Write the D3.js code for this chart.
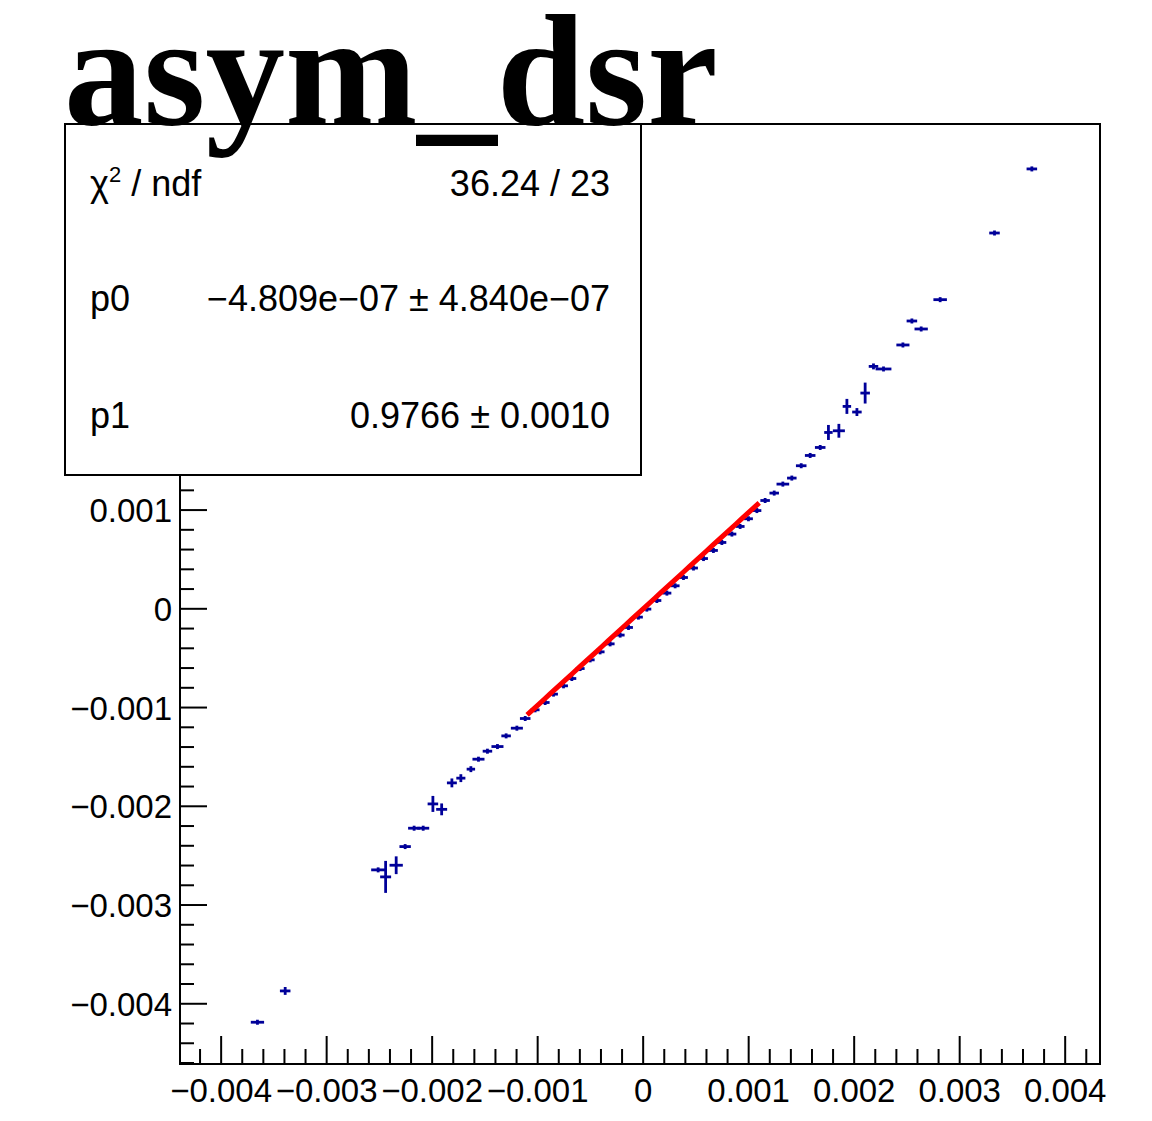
<!DOCTYPE html>
<html><head><meta charset="utf-8">
<script src="https://cdn.jsdelivr.net/npm/d3@7"></script>
<style>body{margin:0;background:#fff}svg{display:block}</style>
</head><body>
<script>
const chartTitle = "asym_dsr";
const xVals = [-0.003656,-0.003393,-0.002512,-0.002441,-0.002341,-0.002256,-0.002171,-0.002085,-0.001993,-0.001910,
 -0.001813,-0.001728,-0.001633,-0.001561,-0.001476,-0.001381,-0.001299,-0.001197,-0.001118,-0.001024,
 -0.000929,-0.000850,-0.000755,-0.000676,-0.000597,-0.000502,-0.000408,-0.000313,-0.000218,-0.000139,
 -0.000045,0.000035,0.000130,0.000225,0.000303,0.000382,0.000477,0.000572,0.000666,0.000746,
 0.000841,0.000919,0.000998,0.001078,0.001156,0.001242,0.001324,0.001409,0.001498,0.001583,
 0.001678,0.001756,0.001855,0.001931,0.002026,0.002104,0.002183,0.002278,0.002462,0.002547,
 0.002635,0.002815,0.003330,0.003684];
const yVals = [-0.004187,-0.003870,-0.002644,-0.002715,-0.002597,-0.002408,-0.002222,-0.002222,-0.001976,-0.002031,
 -0.001763,-0.001715,-0.001624,-0.001523,-0.001442,-0.001395,-0.001287,-0.001209,-0.001111,-0.001023,
 -0.000949,-0.000864,-0.000780,-0.000706,-0.000605,-0.000517,-0.000436,-0.000355,-0.000266,-0.000189,
 -0.000084,-0.000003,0.000084,0.000159,0.000233,0.000317,0.000413,0.000509,0.000591,0.000672,
 0.000757,0.000834,0.000912,0.000995,0.001097,0.001172,0.001263,0.001324,0.001449,0.001553,
 0.001634,0.001786,0.001803,0.002050,0.001993,0.002185,0.002455,0.002429,0.002672,0.002915,
 0.002834,0.003131,0.003806,0.004455];
const xErrs = [0.000063,0.000050,0.000066,0.000052,0.000063,0.000054,0.000057,0.000057,0.000050,0.000052,
 0.000047,0.000043,0.000040,0.000057,0.000045,0.000057,0.000045,0.000057,0.000050,0.000042,
 0.000042,0.000042,0.000042,0.000042,0.000042,0.000042,0.000042,0.000042,0.000042,0.000042,
 0.000042,0.000042,0.000042,0.000042,0.000042,0.000042,0.000042,0.000042,0.000042,0.000042,
 0.000042,0.000042,0.000042,0.000042,0.000045,0.000045,0.000060,0.000045,0.000050,0.000050,
 0.000050,0.000040,0.000057,0.000040,0.000045,0.000045,0.000045,0.000075,0.000062,0.000050,
 0.000063,0.000064,0.000050,0.000050];
const yErrs = [0.000010,0.000040,0.000020,0.000162,0.000090,0.000015,0.000015,0.000015,0.000081,0.000060,
 0.000045,0.000040,0.000030,0.000020,0.000020,0.000020,0.000015,0.000015,0.000015,0.000012,
 0.000012,0.000012,0.000012,0.000012,0.000012,0.000012,0.000012,0.000012,0.000012,0.000012,
 0.000012,0.000012,0.000012,0.000012,0.000012,0.000012,0.000012,0.000012,0.000012,0.000012,
 0.000012,0.000012,0.000012,0.000012,0.000015,0.000015,0.000015,0.000015,0.000020,0.000020,
 0.000020,0.000076,0.000070,0.000076,0.000040,0.000106,0.000030,0.000015,0.000015,0.000015,
 0.000015,0.000015,0.000015,0.000015];
const xTicks = [-0.004,-0.003,-0.002,-0.001,0,0.001,0.002,0.003,0.004];
const xTickLabels = ["\u22120.004","\u22120.003","\u22120.002","\u22120.001","0","0.001","0.002","0.003","0.004"];
const yTicks = [-0.004,-0.003,-0.002,-0.001,0,0.001,0.002,0.003,0.004];
const yTickLabels = ["\u22120.004","\u22120.003","\u22120.002","\u22120.001","0","0.001","0.002","0.003","0.004"];
const fitP0 = -4.809e-07, fitP1 = 0.9766;
const fitRange = [-0.0011, 0.0011];
const statLabels = ["\u03c7", "p0", "p1"];
const statValues = ["36.24 / 23", "\u22124.809e\u221207 \u00b1 4.840e\u221207", "0.9766 \u00b1 0.0010"];

const W = 1152, H = 1121;
const L = 180, R = 1100, T = 124, B = 1064;
const boxX = 65, boxY = 124, boxW = 576, boxH = 351;
const svg = d3.select("body").append("svg").attr("width", W).attr("height", H);
const x = d3.scaleLinear().domain([-0.00439, 0.00433]).range([L, R]);
const y = d3.scaleLinear().domain([-0.00461, 0.00491]).range([B, T]);
const font = "'Liberation Sans', Arial, sans-serif";
const isMajor = (d, arr) => arr.some(t => Math.abs(t - d) < 1e-9);

// x axis ticks (major + minor), pointing up into the frame
const gx = svg.append("g");
const xMinorVals = d3.range(-22, 23).map(i => +(i * 0.0002).toFixed(5)).filter(v => v >= x.domain()[0] && v <= x.domain()[1]);
gx.selectAll("line").data(xMinorVals).join("line")
  .attr("x1", d => x(d)).attr("x2", d => x(d)).attr("y1", B).attr("y2", d => isMajor(d, xTicks) ? B - 28 : B - 15)
  .attr("stroke", "#000").attr("stroke-width", 2);
gx.selectAll("text").data(xTicks).join("text")
  .attr("x", d => x(d)).attr("y", 1102).attr("text-anchor", "middle")
  .attr("font-family", font).attr("font-size", 33).text((d, i) => xTickLabels[i]);

// y axis ticks
const gy = svg.append("g");
const yMinorVals = d3.range(-24, 25).map(i => +(i * 0.0002).toFixed(5)).filter(v => v >= y.domain()[0] && v <= y.domain()[1]);
gy.selectAll("line").data(yMinorVals).join("line")
  .attr("y1", d => y(d)).attr("y2", d => y(d)).attr("x1", L).attr("x2", d => isMajor(d, yTicks) ? L + 27 : L + 14)
  .attr("stroke", "#000").attr("stroke-width", 2);
const yLab = yTicks.map((t, i) => ({t, s: yTickLabels[i]})).filter(o => y(o.t) > boxY + boxH + 10);
gy.selectAll("text").data(yLab).join("text")
  .attr("x", 172).attr("y", d => y(d.t) + 12).attr("text-anchor", "end")
  .attr("font-family", font).attr("font-size", 33).text(d => d.s);

// frame
svg.append("rect").attr("x", L).attr("y", T).attr("width", R - L).attr("height", B - T)
  .attr("fill", "none").attr("stroke", "#000").attr("stroke-width", 2);

// data points with error bars
const pts = xVals.map((v, i) => ({x: v, y: yVals[i], ex: xErrs[i], ey: yErrs[i]}));
const blue = "#000099";
const gp = svg.append("g").attr("stroke", blue).attr("stroke-width", 2.8);
gp.selectAll("line.h").data(pts).join("line").attr("class", "h")
  .attr("x1", d => x(d.x - d.ex)).attr("x2", d => x(d.x + d.ex)).attr("y1", d => y(d.y)).attr("y2", d => y(d.y));
gp.selectAll("line.v").data(pts).join("line").attr("class", "v")
  .attr("x1", d => x(d.x)).attr("x2", d => x(d.x))
  .attr("y1", d => y(d.y) - Math.max(y(0) - y(d.ey), 2.5)).attr("y2", d => y(d.y) + Math.max(y(0) - y(d.ey), 2.5));

// fit line
const fitXs = d3.range(0, 41).map(i => fitRange[0] + (fitRange[1] - fitRange[0]) * i / 40);
svg.append("path").datum(fitXs)
  .attr("d", d3.line().x(d => x(d)).y(d => y(fitP0 + fitP1 * d)))
  .attr("fill", "none").attr("stroke", "#ff0000").attr("stroke-width", 5);

// stats box
svg.append("rect").attr("x", boxX).attr("y", boxY).attr("width", boxW).attr("height", boxH)
  .attr("fill", "#fff").attr("stroke", "#000").attr("stroke-width", 2);
const rowsY = [196, 311, 428];
statLabels.forEach((s, i) => {
  const t = svg.append("text").attr("x", 90).attr("y", rowsY[i]).attr("font-family", font).attr("font-size", 36);
  if (i === 0) {
    t.append("tspan").text(s);
    t.append("tspan").attr("font-size", 22).attr("dy", -14).text("2");
    t.append("tspan").attr("dy", 14).text(" / ndf");
  } else t.text(s);
  svg.append("text").attr("x", 610).attr("y", rowsY[i]).attr("text-anchor", "end").attr("font-family", font).attr("font-size", 36).text(statValues[i]);
});

// title
svg.append("text").attr("x", 64).attr("y", 124).attr("font-family", "'Liberation Serif', 'Times New Roman', serif")
  .attr("font-weight", "bold").attr("font-size", 159).text(chartTitle);
</script>
</body></html>
